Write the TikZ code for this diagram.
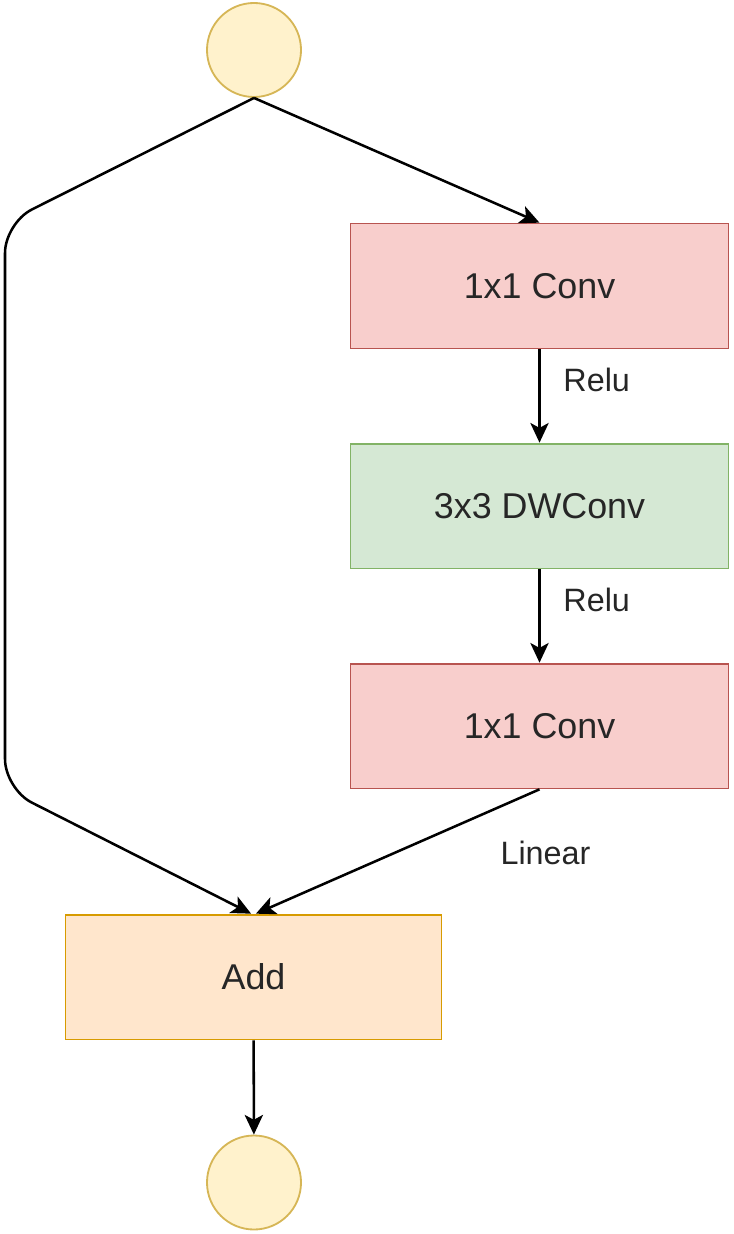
\documentclass[tikz,border=0pt]{standalone}
\usepackage{fontspec}
\setmainfont{Liberation Sans}
\usepackage{tikz}
\usetikzlibrary{arrows.meta}
\usepackage{xcolor}
\definecolor{iofill}{HTML}{FFF2CC}
\definecolor{iodraw}{HTML}{D6B656}
\definecolor{convfill}{HTML}{F8CECC}
\definecolor{convdraw}{HTML}{B85450}
\definecolor{dwfill}{HTML}{D5E8D4}
\definecolor{dwdraw}{HTML}{82B366}
\definecolor{addfill}{HTML}{FFE6CC}
\definecolor{adddraw}{HTML}{D79B00}

\begin{document}
\begin{tikzpicture}[>={Stealth[length=14pt,width=13pt,inset=3.5pt]}, x=0.025cm, y=-0.025cm, line width=1.8pt,
    io/.style={circle,draw=iodraw,fill=iofill,line width=1.3pt,minimum size=2.35cm,inner sep=0pt},
    blk/.style={rectangle,line width=1.3pt,minimum width=9.45cm,minimum height=3.12cm,font=\fontsize{25.5}{30}\selectfont,text=black!85},
    lbl/.style={font=\fontsize{23}{28}\selectfont,text=black!85}]
    \useasboundingbox (0,0) rectangle (733,1234);

    \node[io] (in) at (254,50) {};
    \node[blk,draw=convdraw,fill=convfill] (c1) at (539.5,286) {1x1 Conv};
    \node[blk,draw=dwdraw,fill=dwfill] (dw) at (539.5,506) {3x3 DWConv};
    \node[blk,draw=convdraw,fill=convfill] (c2) at (539.5,726) {1x1 Conv};
    \node[blk,draw=adddraw,fill=addfill,minimum width=9.4cm] (add) at (253.5,977) {Add};
    \node[io] (out) at (254,1182.5) {};

    \coordinate (lt) at (5,223);
    \coordinate (lb) at (5,789);

    \draw[->] (in.south) -- (c1.north);
    \draw[->,rounded corners=0.75cm] (in.south) -- (lt) -- (lb) -- ([xshift=-0.06cm]add.north);
    \draw[->] (c1) -- node[lbl,right=0.45cm,yshift=0.4cm] {Relu} (dw);
    \draw[->] (dw) -- node[lbl,right=0.45cm,yshift=0.4cm] {Relu} (c2);
    \draw[->] (c2.south) -- node[lbl,at start,xshift=0.15cm,yshift=-1.58cm] {Linear} ([xshift=0.06cm]add.north);
    \draw[->] (add) -- (out);
\end{tikzpicture}
\end{document}
